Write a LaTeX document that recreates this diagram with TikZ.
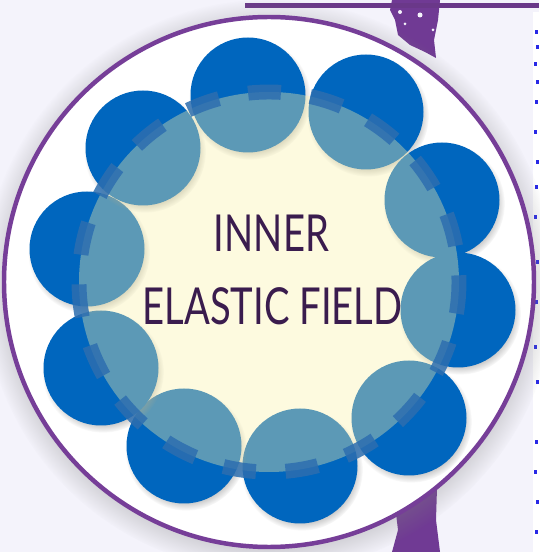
\documentclass[tikz,border=0pt]{standalone}
\usepackage{fontspec}
\usepackage{tikz}
\usetikzlibrary{shadows,fadings}
\newfontfamily\fieldfont[FakeStretch=0.75]{Lato}
\definecolor{pagelilac}{RGB}{244,243,251}
\definecolor{ringviolet}{RGB}{118,62,152}
\definecolor{splatviolet}{RGB}{112,58,148}
\definecolor{discblue}{RGB}{0,102,190}
\definecolor{dashblue}{RGB}{45,110,175}
\definecolor{fieldcream}{RGB}{250,242,170}
\definecolor{fieldink}{RGB}{58,28,78}
\definecolor{speckblue}{RGB}{40,40,230}
\newcommand{\bluedisc}[1]{\fill[discblue,circular drop shadow={shadow scale=1.06,shadow xshift=1pt,shadow yshift=-2pt,opacity=.45}] #1 circle (57.5);}
\newcommand{\speck}[1]{\fill[speckblue] #1 rectangle ++(3,-4);}

\begin{document}
\begin{tikzpicture}[x=0.02cm,y=0.02cm]
\useasboundingbox (0,0) rectangle (539,552);
\fill[pagelilac] (0,0) rectangle (539,552);
\fill[splatviolet] (392,552) -- (440,552) -- (438,532) -- (434,512) -- (436,494) -- (425,500) -- (410,507) -- (398,517) -- (395,532) -- (390,542) -- cycle;
\fill[splatviolet] (395,47) -- (410,52) -- (425,60) -- (437,64) -- (436,32) -- (440,0) -- (392,0) -- (398,22) -- cycle;
\fill[pagelilac] (400,540) circle (2) (405,528) circle (1.5) (420,537) circle (2.5) (433,522) circle (1.5);
\fill[ringviolet!90!black] (245,544) rectangle (539,549);
\fill[white] (533,540) rectangle (539,0);
\speck{(535,522)} \speck{(536,507)} \speck{(534,490)} \speck{(536,472)} \speck{(535,452)}
\speck{(534,422)} \speck{(536,392)} \speck{(535,367)} \speck{(534,337)} \speck{(536,292)}
\speck{(535,252)} \speck{(534,207)} \speck{(536,172)} \speck{(535,112)} \speck{(534,82)}
\speck{(536,52)} \speck{(535,22)}
\filldraw[fill=white,draw=ringviolet,line width=2.55pt,circular drop shadow={shadow scale=1.08,shadow xshift=0pt,shadow yshift=-2pt,opacity=.5}] (269,270) circle (265);
\bluedisc{(248,457)} \bluedisc{(366,440)} \bluedisc{(442,352)} \bluedisc{(458,242)} \bluedisc{(409,134)}
\bluedisc{(300,86)} \bluedisc{(184,106)} \bluedisc{(101,184)} \bluedisc{(87,303)} \bluedisc{(143,404)}
\fill[fieldcream,fill opacity=.37] (269,270) circle (190);
\draw[dashblue,opacity=.85,line width=8.5pt,dash pattern=on 18.7pt off 16.9pt,dash phase=14.9pt] (269,270) circle (190);
\node[fieldink,font=\fieldfont\fontsize{29}{35}\selectfont,anchor=base] (inner) at (271.5,300) {INNER};
\node[fieldink,font=\fieldfont\fontsize{29}{35}\selectfont,anchor=base] (field) at (272.5,227) {ELASTIC FIELD};
\end{tikzpicture}
\end{document}
